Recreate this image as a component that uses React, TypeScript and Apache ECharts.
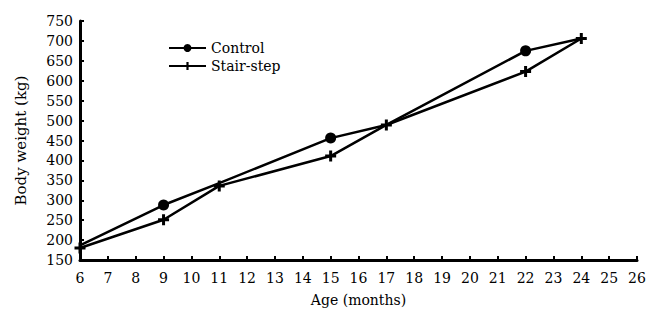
import React, { useEffect, useRef } from "react";
import * as echarts from "echarts";

const ages = [6, 9, 11, 15, 17, 22, 24];
const controlWeights = [187, 288, 343, 456, 489, 675, 706];
const stairWeights = [180, 251, 336, 411, 489, 623, 706];
const controlHiddenMarkers = [6, 11, 17, 24];
const seriesNames = ["Control", "Stair-step"];

const plusPath =
  "path://M4,0 L7,0 L7,4 L11,4 L11,7 L7,7 L7,11 L4,11 L4,7 L0,7 L0,4 L4,4 Z";

export default function App() {
  const ref = useRef<HTMLDivElement>(null);
  useEffect(() => {
    if (!ref.current) return;
    const chart = echarts.init(ref.current, null, { renderer: "svg" });
    const font = "DejaVu Serif";
    chart.setOption({
      animation: false,
      textStyle: { fontFamily: font },
      grid: { left: 80, right: 13, top: 21, bottom: 63, outerBoundsMode: "none" },
      legend: {
        left: 163,
        top: 36,
        orient: "vertical",
        itemWidth: 37,
        itemHeight: 10,
        itemGap: 4,
        textStyle: { fontFamily: font, fontSize: 14, color: "#000" },
        data: seriesNames,
      },
      xAxis: {
        type: "value",
        min: 6,
        max: 26,
        interval: 1,
        name: "Age (months)",
        nameLocation: "middle",
        nameGap: 33,
        nameTextStyle: { fontFamily: font, fontSize: 14, color: "#000" },
        axisLine: { lineStyle: { color: "#000", width: 3 } },
        axisTick: { inside: true, length: 4, lineStyle: { color: "#000", width: 2 } },
        axisLabel: { fontFamily: font, fontSize: 14, color: "#000", margin: 11 },
        splitLine: { show: false },
      },
      yAxis: {
        type: "value",
        min: 150,
        max: 750,
        interval: 50,
        name: "Body weight (kg)",
        nameLocation: "middle",
        nameGap: 52,
        nameTextStyle: { fontFamily: font, fontSize: 15, color: "#000" },
        axisLine: { show: true, lineStyle: { color: "#000", width: 3 } },
        axisTick: { show: true, inside: true, length: 4, lineStyle: { color: "#000", width: 2 } },
        axisLabel: { fontFamily: font, fontSize: 14, color: "#000", margin: 7 },
        splitLine: { show: false },
      },
      series: [
        {
          name: seriesNames[0],
          type: "line",
          symbol: "circle",
          symbolSize: 11,
          itemStyle: { color: "#000" },
          lineStyle: { color: "#000", width: 2.5 },
          data: ages.map((a, i) => ({
            value: [a, controlWeights[i]],
            symbol: controlHiddenMarkers.includes(a) ? "none" : "circle",
          })),
          z: 2,
        },
        {
          name: seriesNames[1],
          type: "line",
          symbol: plusPath,
          symbolSize: 11,
          itemStyle: { color: "#000" },
          lineStyle: { color: "#000", width: 2.5 },
          data: ages.map((a, i) => [a, stairWeights[i]]),
          z: 3,
        },
      ],
    });
    return () => chart.dispose();
  }, []);
  return (
    <div
      ref={ref}
      style={{ position: "absolute", left: 0, top: 0, width: 650, height: 323 }}
    />
  );
}
